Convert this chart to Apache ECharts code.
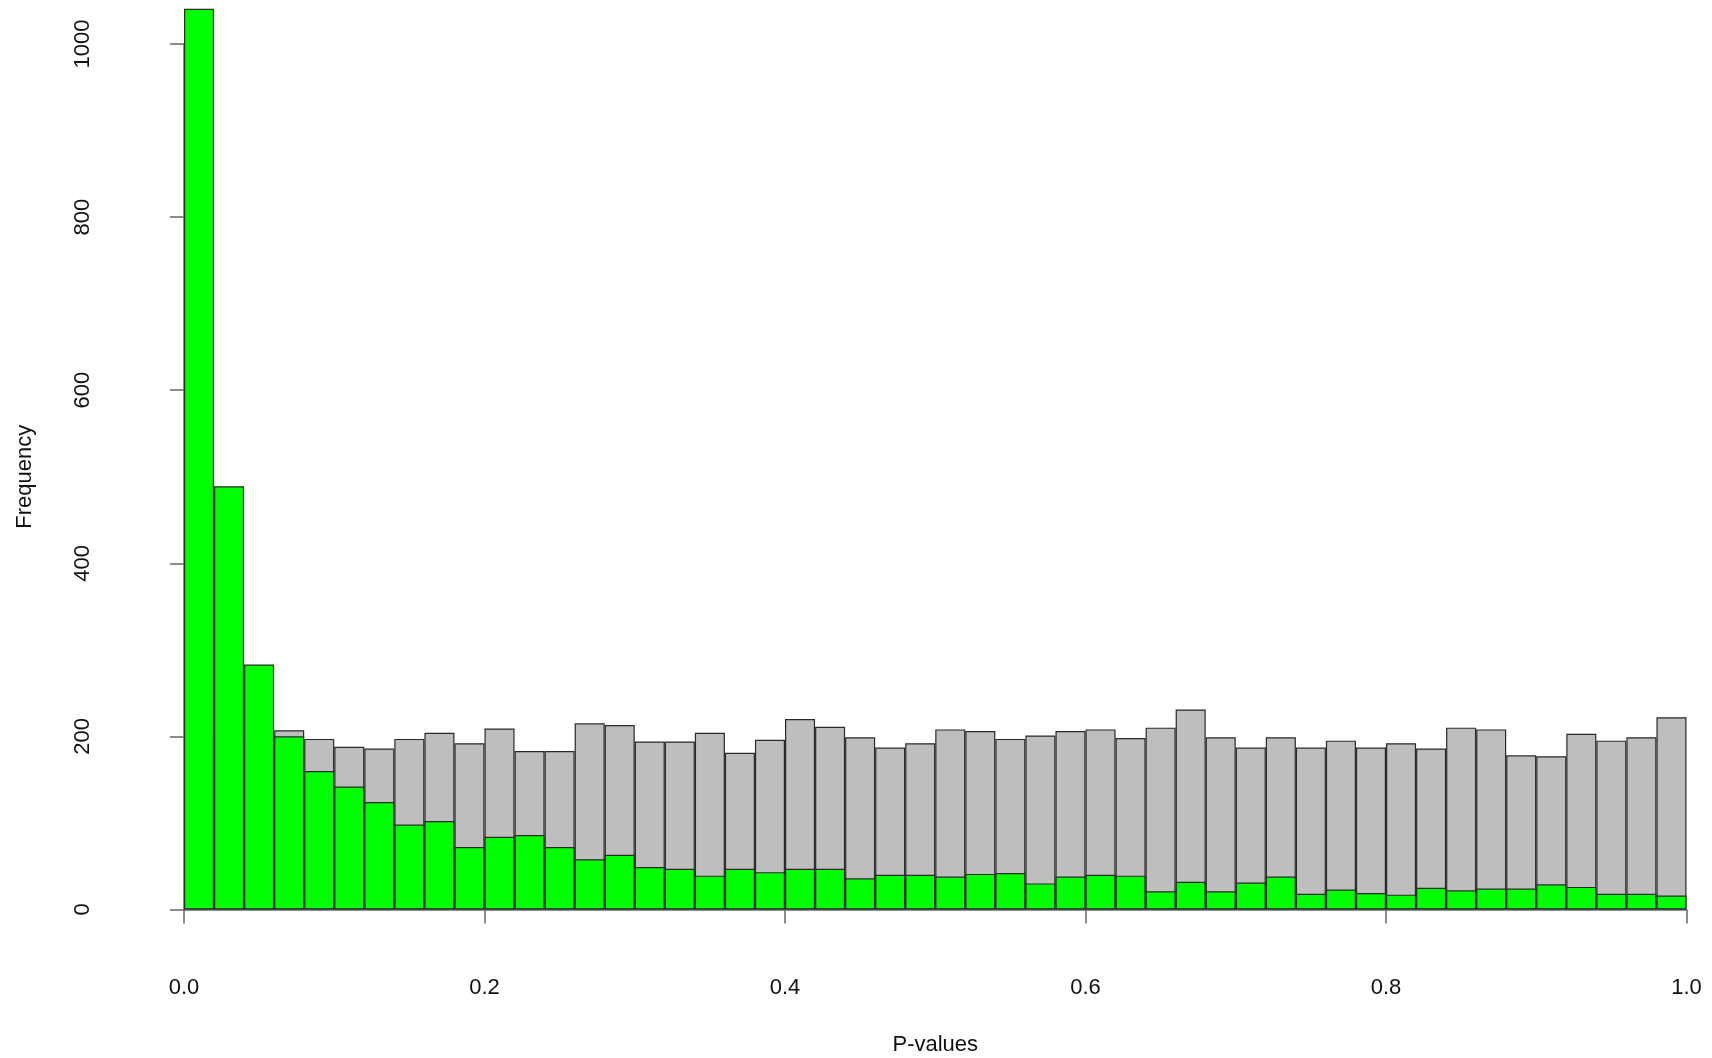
<!DOCTYPE html>
<html>
<head>
<meta charset="utf-8">
<script src="https://cdn.jsdelivr.net/npm/echarts@6/dist/echarts.min.js"></script>
<style>
  html, body { margin: 0; padding: 0; background: #fff; }
  #chart { width: 1712px; height: 1058px; }
</style>
</head>
<body>
<div id="chart"></div>
<script>
// histogram bins, width 0.02 from 0 to 1
const bins = [];
for (let i = 0; i < 50; i++) {
  bins.push((i * 0.02).toFixed(2) + '-' + ((i + 1) * 0.02).toFixed(2));
}

// all p-values (gray) and overlaid subset (green), counts per bin
const grayCounts = [196, 200, 199, 207, 197, 188, 186, 197, 204, 192,
  209, 183, 183, 215, 213, 194, 194, 204, 181, 196,
  220, 211, 199, 187, 192, 208, 206, 197, 201, 206,
  208, 198, 210, 231, 199, 187, 199, 187, 195, 187,
  192, 186, 210, 208, 178, 177, 203, 195, 199, 222];
const greenCounts = [1180, 489, 283, 200, 160, 142, 124, 98, 102, 72,
  84, 86, 72, 58, 63, 49, 47, 39, 47, 43,
  47, 47, 36, 40, 40, 38, 41, 42, 30, 38,
  40, 39, 21, 32, 21, 31, 38, 18, 23, 19,
  17, 25, 22, 24, 24, 29, 26, 18, 18, 16];

const xTicks = [0, 0.2, 0.4, 0.6, 0.8, 1.0];
const yTicks = [0, 200, 400, 600, 800, 1000];

const chart = echarts.init(document.getElementById('chart'));

const font = 'Liberation Sans, Arial, sans-serif';
const axisColor = '#6e6e6e';

chart.setOption({
  animation: false,
  backgroundColor: '#fff',
  grid: [
    // plot region (R usr coords: y -40..1040)
    { left: 184, right: 25.5, top: 9.4, bottom: 114, outerBoundsMode: 'none' },
    // axis frame (ticks span 0..1 and 0..1000)
    { left: 184, right: 25.5, top: 44, bottom: 148.5, outerBoundsMode: 'none' }
  ],
  xAxis: [
    {
      gridIndex: 0,
      type: 'category',
      data: bins,
      show: false
    },
    {
      gridIndex: 1,
      type: 'value',
      min: xTicks[0],
      max: xTicks[xTicks.length - 1],
      interval: xTicks[1] - xTicks[0],
      offset: 34.5,
      name: 'P-values',
      nameLocation: 'middle',
      nameGap: 90,
      nameTextStyle: { fontFamily: font, fontSize: 22, color: '#111' },
      splitLine: { show: false },
      axisLine: { lineStyle: { color: axisColor, width: 1.6 } },
      axisTick: { length: 14, lineStyle: { color: axisColor, width: 1.6 } },
      axisLabel: {
        margin: 33,
        fontFamily: font,
        fontSize: 22,
        color: '#111',
        formatter: v => v.toFixed(1)
      }
    }
  ],
  yAxis: [
    {
      gridIndex: 0,
      type: 'value',
      min: -40,
      max: 1040,
      show: false
    },
    {
      gridIndex: 1,
      type: 'value',
      min: yTicks[0],
      max: yTicks[yTicks.length - 1],
      interval: yTicks[1] - yTicks[0],
      offset: 60.5,
      name: 'Frequency',
      nameLocation: 'middle',
      nameGap: 88,
      nameTextStyle: { fontFamily: font, fontSize: 22, color: '#111' },
      splitLine: { show: false },
      axisLine: { show: true, lineStyle: { color: axisColor, width: 1.6 } },
      axisTick: { show: true, length: 14, lineStyle: { color: axisColor, width: 1.6 } },
      axisLabel: {
        rotate: 90,
        margin: 30,
        fontFamily: font,
        fontSize: 22,
        color: '#111',
        formatter: v => String(v)
      }
    }
  ],
  series: [
    {
      name: 'all',
      type: 'bar',
      xAxisIndex: 0,
      yAxisIndex: 0,
      data: grayCounts,
      barGap: '-100%',
      barCategoryGap: '0%',
      itemStyle: { color: '#bebebe', borderColor: '#2a2a2a', borderWidth: 1.2 }
    },
    {
      name: 'subset',
      type: 'bar',
      xAxisIndex: 0,
      yAxisIndex: 0,
      data: greenCounts,
      barGap: '-100%',
      barCategoryGap: '0%',
      itemStyle: { color: '#00ff00', borderColor: '#2a2a2a', borderWidth: 1.2 }
    }
  ]
});
</script>
</body>
</html>
